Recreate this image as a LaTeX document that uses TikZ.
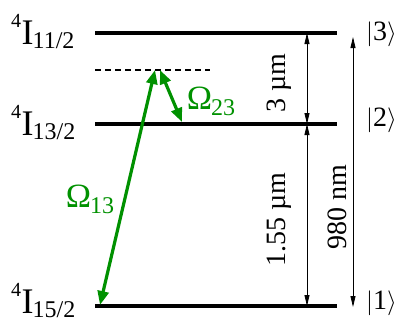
\documentclass[tikz,border=0pt]{standalone}
\usepackage{fontspec}
\setmainfont{Liberation Serif}
\usetikzlibrary{arrows.meta}
\definecolor{lgreen}{RGB}{0,145,0}
\newcommand{\lvl}[1]{{\fontsize{20}{20}\selectfont\raisebox{17pt}{4}}\kern0.5pt I\kern-1pt{\fontsize{24}{24}\selectfont\raisebox{-4pt}{#1}}}
\newcommand{\ketlab}[1]{{\fontsize{28}{28}\selectfont$|$#1$\rangle$}}
\newcommand{\omg}[1]{Ω\kern-1pt{\fontsize{24}{24}\selectfont\raisebox{-6pt}{#1}}}
\begin{document}
\begin{tikzpicture}[x=1pt,y=-1pt,
  levelline/.style={line width=4pt},
  virtline/.style={line width=2pt, dash pattern=on 6pt off 4pt},
  greenarrow/.style={lgreen, line width=3.2pt, {Triangle[length=14pt,width=11pt]}-{Triangle[length=14pt,width=11pt]}},
  distarrow/.style={line width=0.8pt, {Triangle[length=11pt,width=5pt]}-{Triangle[length=11pt,width=5pt]}},
  lvllabel/.style={font=\fontsize{36}{36}\selectfont, anchor=base west, inner sep=0pt},
  sizelabel/.style={font=\fontsize{28}{28}\selectfont, rotate=90, inner sep=0pt},
  ketnode/.style={anchor=west, inner sep=0pt},
  omeganode/.style={text=lgreen, inner sep=0pt, font=\fontsize{34}{34}\selectfont}]
\useasboundingbox (0,0) rectangle (402,322);
% levels
\coordinate (L3a) at (95,33);  \coordinate (L3b) at (337,33);
\coordinate (L2a) at (95,124); \coordinate (L2b) at (337,124);
\coordinate (L1a) at (95,306); \coordinate (L1b) at (337,306);
\coordinate (Va) at (95,70);   \coordinate (Vb) at (210,70);
\draw[levelline] (L3a) -- (L3b);
\draw[levelline] (L2a) -- (L2b);
\draw[levelline] (L1a) -- (L1b);
\draw[virtline] (Va) -- (Vb);
% labels
\node[lvllabel] (n3) at (11,44) {\lvl{11/2}};
\node[lvllabel] (n2) at (11,135) {\lvl{13/2}};
\node[lvllabel] (n1) at (11,313) {\lvl{15/2}};
% green transitions
\coordinate (g1a) at (100,305); \coordinate (g1b) at (155,70);
\coordinate (g2a) at (160,70);  \coordinate (g2b) at (182,122);
\draw[greenarrow] (g1a) -- (g1b);
\draw[greenarrow] (g2a) -- (g2b);
\node[omeganode] (o13) at (90,199) {\omg{13}};
\node[omeganode] (o23) at (211,101) {\omg{23}};
% distance arrows
\coordinate (d3t) at (307,33);  \coordinate (d3b) at (307,124);
\coordinate (d1b) at (307,306);
\coordinate (e3t) at (353,37);  \coordinate (e1b) at (353,307);
\draw[distarrow] (d3t) -- (d3b);
\draw[distarrow] (d3b) -- (d1b);
\draw[distarrow] (e3t) -- (e1b);
\node[sizelabel] (s3) at (279,83) {3 µm};
\node[sizelabel] (s155) at (279,220) {1.55 µm};
\node[sizelabel] (s980) at (337,207) {980 nm};
% kets
\node[ketnode] (k3) at (366,34) {\ketlab{3}};
\node[ketnode] (k2) at (366,120) {\ketlab{2}};
\node[ketnode] (k1) at (366,303) {\ketlab{1}};
\end{tikzpicture}
\end{document}
